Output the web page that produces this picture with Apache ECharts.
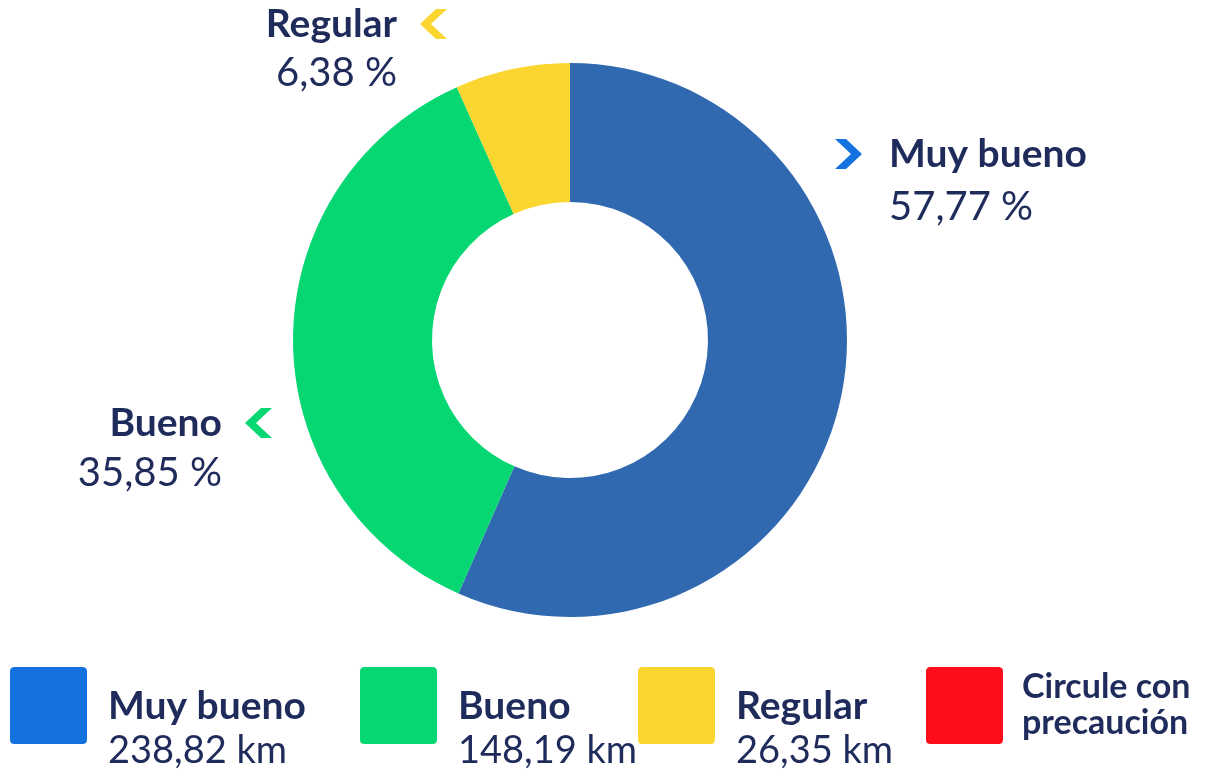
<!DOCTYPE html>
<html>
<head>
<meta charset="utf-8">
<script src="https://cdn.jsdelivr.net/npm/echarts@6/dist/echarts.min.js"></script>
<style>
  html, body { margin: 0; padding: 0; background: #fff; }
  #chart { width: 1207px; height: 772px; }
</style>
</head>
<body>
<div id="chart"></div>
<script>
const categories = ["Muy bueno", "Bueno", "Regular", "Circule con precaución"]
// slice shares as drawn in the picture (%)
const sliceShares = [56.6, 36.7, 6.7, 0]
const percentLabels = ["57,77 %", "35,85 %", "6,38 %", ""]
const kmLabels = ["238,82 km", "148,19 km", "26,35 km", ""]

const sliceColors = ["#3169b1", "#06d773", "#fbd631", "#ff0c1a"]
const legendColors = ["#1472e0", "#06d773", "#fbd631", "#ff0c1a"]
const navy = "#1f2b5b"
const font = "Lato, 'Noto Sans', sans-serif"

// where each outside label sits (text only)
const labelSpots = [
  { x: 835, y: 129, align: "left", gap: 56 },
  { x: 272, y: 398, align: "right", gap: 50 },
  { x: 447, y: -1, align: "right", gap: 48 },
  null
]
const legendLeft = [10, 360, 638, 926]
const squareIcon = "path://M6,0H94Q100,0 100,6V94Q100,100 94,100H6Q0,100 0,94V6Q0,0 6,0Z"

// chevron pictures for the label tokens
const chevron = (color, dir) => {
  const pts = dir === "right"
    ? "0,0 11,0 27,15 11,30 0,30 16,15"
    : "50,0 39,0 23,15 39,30 50,30 34,15"
  const w = dir === "right" ? 54 : 50
  const svg = "<svg xmlns='http://www.w3.org/2000/svg' width='" + w + "' height='30' viewBox='0 0 " + w + " 30'>" +
    "<polygon points='" + pts + "' fill='" + color + "'/></svg>"
  return "data:image/svg+xml;charset=utf-8," + encodeURIComponent(svg)
}

const chart = echarts.init(document.getElementById("chart"), null, { renderer: "canvas" })

const rich = {
  name: { fontFamily: font, fontWeight: "bold", fontSize: 39, color: navy, lineHeight: 50 },
  val: { fontFamily: font, fontWeight: "normal", fontSize: 40, color: navy, lineHeight: 50 },
  icR: { width: 54, height: 30 },
  icL: { width: 50, height: 30 },
  sp: { width: 54, fontSize: 10 },
  spL: { width: 50, fontSize: 10 }
}

const pieData = categories.map((name, i) => {
  const item = { name, value: sliceShares[i], itemStyle: { color: sliceColors[i] } }
  const spot = labelSpots[i]
  if (spot) {
    item.label = {
      rich: {
        icR: { backgroundColor: { image: chevron(legendColors[i], "right") } },
        icL: { backgroundColor: { image: chevron(legendColors[i], "left") } },
        val: { lineHeight: spot.gap }
      }
    }
  } else {
    item.label = { show: false }
  }
  return item
})

const legends = categories.map((name, i) => ({
  left: legendLeft[i],
  top: 667,
  padding: 0,
  orient: "horizontal",
  icon: squareIcon,
  itemWidth: 77,
  itemHeight: 77,
  selectedMode: false,
  data: [{ name, itemStyle: { color: legendColors[i] } }],
  formatter: (n) => {
    const idx = categories.indexOf(n)
    if (!kmLabels[idx]) {
      return "{small|Circule con}\n{small|precaución}"
    }
    return "{name|" + n + "}\n{val|" + kmLabels[idx] + "}"
  },
  textStyle: {
    padding: kmLabels[i] ? [46, 0, 0, 16] : [0, 0, 0, 14],
    rich: {
      name: { fontFamily: font, fontWeight: "bold", fontSize: 39, color: navy, lineHeight: 44 },
      val: { fontFamily: font, fontSize: 38, color: navy, lineHeight: 44 },
      small: { fontFamily: font, fontWeight: "bold", fontSize: 34, color: navy, lineHeight: 36 }
    }
  }
}))

const option = {
  animation: false,
  backgroundColor: "#fff",
  legend: legends,
  series: [
    {
      type: "pie",
      center: [570, 340],
      radius: [138, 277],
      startAngle: 90,
      clockwise: true,
      avoidLabelOverlap: false,
      silent: true,
      label: {
        show: true,
        position: "outside",
        formatter: (p) => {
          const i = p.dataIndex
          const spot = labelSpots[i]
          if (!spot) return ""
          if (spot.align === "left") {
            return "{icR|}{name|" + p.name + "}\n{sp| }{val|" + percentLabels[i] + "}"
          }
          return "{name|" + p.name + "}{icL|}\n{val|" + percentLabels[i] + "}{spL| }"
        },
        rich: rich
      },
      labelLine: { show: false },
      labelLayout: (params) => {
        const spot = labelSpots[params.dataIndex]
        if (!spot) return {}
        return { x: spot.x, y: spot.y, align: spot.align, verticalAlign: "top" }
      },
      data: pieData
    }
  ]
}

chart.setOption(option)
</script>
</body>
</html>
